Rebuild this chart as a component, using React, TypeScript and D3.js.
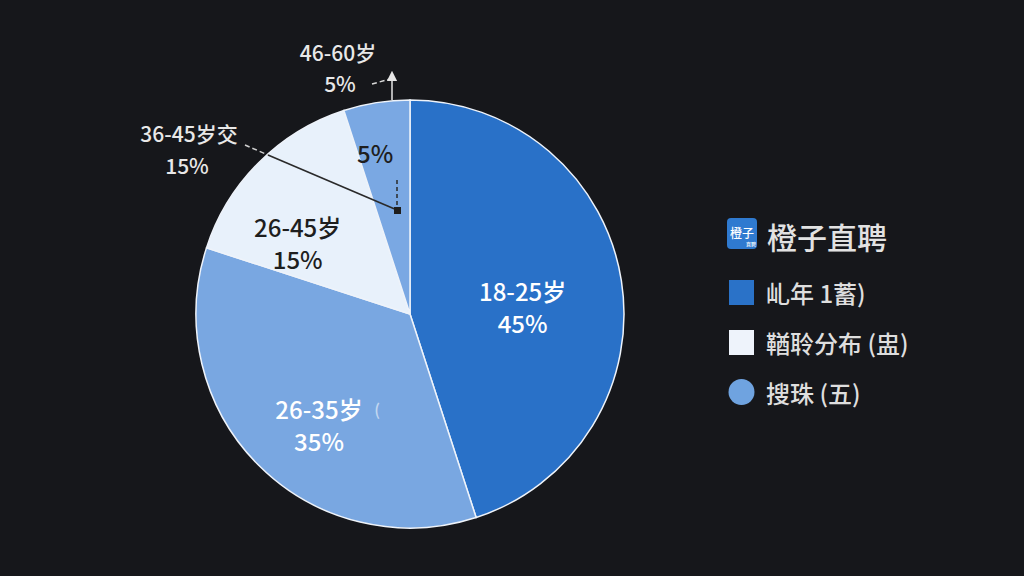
import React from "react";
import * as d3 from "d3";

const categories = ["18-25岁", "26-35岁", "26-45岁", "46-60岁"];
const values = [45, 35, 15, 5];
const sliceColors = ["#2971c8", "#79a7e1", "#e8f1fb", "#7aa8e3"];
const insideLabelColors = ["#ffffff", "#ffffff", "#1e1e1e", "#1e1e1e"];
const legendTitle = "橙子直聘";
const legendLabels = ["乢年 1蓄)", "鞧聆分布 (盅)", "搜珠 (五)"];
const legendColors = ["#2a72c8", "#eef3fb", "#6fa3e0"];
const calloutLabels = ["46-60岁", "36-45岁交"];
const calloutValues = ["5%", "15%"];

const W = 1024;
const H = 576;
const cx = 410;
const cy = 314;
const R = 214;
const FONT = "'Noto Sans CJK SC', 'Noto Sans', sans-serif";

export default function App() {
  const pie = d3.pie<number>().sort(null).value((d) => d);
  const arcs = pie(values);
  const arc = d3.arc<d3.PieArcDatum<number>>().innerRadius(0).outerRadius(R);
  const labelRadius = [112, 140, 132, 165];
  const labelShift = [
    [2, 10],
    [8, 12],
    [-19, 22],
    [-9, 1],
  ];

  return (
    <svg width={W} height={H} style={{ display: "block", position: "absolute", left: 0, top: 0 }} fontFamily={FONT} fontWeight={500}>
      <defs>
        <marker id="arrowUp" viewBox="0 0 10 10" refX="5" refY="5" markerWidth="7" markerHeight="7" orient="auto">
          <path d="M0,0 L10,5 L0,10 z" fill="#e6e6e6" />
        </marker>
      </defs>
      <rect x={0} y={0} width={W} height={H} fill="#16171b" />
      <g transform={`translate(${cx},${cy})`}>
        {arcs.map((a, i) => (
          <path key={i} d={arc(a) || ""} fill={sliceColors[i]} stroke="#eef3fa" strokeWidth={1.5} />
        ))}
        {arcs.map((a, i) => {
          const la = d3.arc<d3.PieArcDatum<number>>().innerRadius(labelRadius[i]).outerRadius(labelRadius[i]);
          const [x, y] = la.centroid(a);
          const px = x + labelShift[i][0];
          const py = y + labelShift[i][1];
          const pct = `${values[i]}%`;
          if (i === 3) {
            return (
              <text key={i} x={px} y={py} textAnchor="middle" dominantBaseline="central" fontSize={24} fill={insideLabelColors[i]}>
                {pct}
              </text>
            );
          }
          return (
            <g key={i}>
              <text x={px} y={py - 16} textAnchor="middle" dominantBaseline="central" fontSize={24} fill={insideLabelColors[i]}>
                {categories[i]}
              </text>
              <text x={px} y={py + 16} textAnchor="middle" dominantBaseline="central" fontSize={24} fill={insideLabelColors[i]}>
                {pct}
              </text>
              {i === 1 && (
                <text x={px + 58} y={py - 16} textAnchor="middle" dominantBaseline="central" fontSize={16} fill="#ffffff" opacity={0.55}>
                  (
                </text>
              )}
            </g>
          );
        })}
      </g>

      {/* callout 46-60 */}
      <text x={338} y={52} textAnchor="middle" dominantBaseline="central" fontSize={21} fill="#e8e8e8">
        {calloutLabels[0]}
      </text>
      <text x={340} y={83} textAnchor="middle" dominantBaseline="central" fontSize={21} fill="#e8e8e8">
        {calloutValues[0]}
      </text>
      <line x1={372} y1={84} x2={390} y2={79} stroke="#d8d8d8" strokeWidth={1.5} strokeDasharray="5,3" />
      <line x1={392} y1={100} x2={392} y2={76} stroke="#e6e6e6" strokeWidth={1.5} markerEnd="url(#arrowUp)" />

      {/* callout 36-45 */}
      <text x={189} y={133} textAnchor="middle" dominantBaseline="central" fontSize={21} fill="#e8e8e8">
        {calloutLabels[1]}
      </text>
      <text x={187} y={165} textAnchor="middle" dominantBaseline="central" fontSize={21} fill="#e8e8e8">
        {calloutValues[1]}
      </text>
      <line x1={245} y1={145} x2={268} y2={155} stroke="#d0d0d0" strokeWidth={1.5} strokeDasharray="5,3" />
      <line x1={268} y1={155} x2={397} y2={210} stroke="#2a2a2a" strokeWidth={1.6} />
      <line x1={397} y1={180} x2={397} y2={206} stroke="#2a2a2a" strokeWidth={1.5} strokeDasharray="4,3" />
      <rect x={394} y={207} width={7} height={7} fill="#1e1e1e" />

      {/* legend */}
      <rect x={727} y={218} width={30} height={31} rx={4} fill="#2f7ad0" />
      <text x={742} y={232} textAnchor="middle" dominantBaseline="central" fontSize={12} fill="#ffffff">
        橙子
      </text>
      <text x={751} y={243} textAnchor="middle" dominantBaseline="central" fontSize={5} fill="#ffffff">
        直聘
      </text>
      <text x={767} y={236} dominantBaseline="central" fontSize={30} fill="#e2e2e2">
        {legendTitle}
      </text>
      {legendLabels.map((lab, i) => {
        const y = 292 + i * 50;
        return (
          <g key={i}>
            {i < 2 ? (
              <rect x={729} y={y - 12} width={25} height={25} fill={legendColors[i]} />
            ) : (
              <circle cx={741.5} cy={y} r={13} fill={legendColors[i]} />
            )}
            <text x={766} y={y} dominantBaseline="central" fontSize={24} fill="#dedede">
              {lab}
            </text>
          </g>
        );
      })}
    </svg>
  );
}
